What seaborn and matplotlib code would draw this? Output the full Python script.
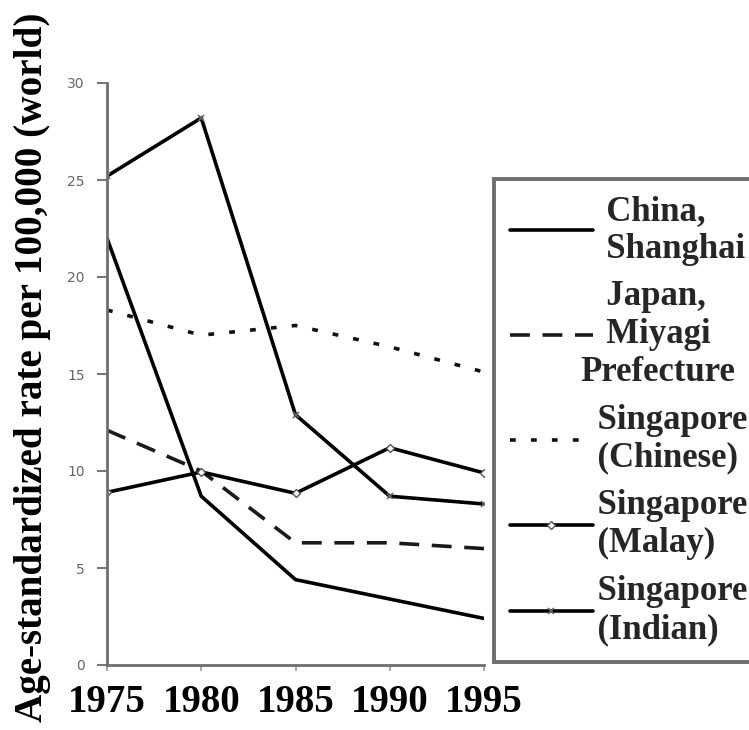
import matplotlib
matplotlib.use("Agg")
import matplotlib.pyplot as plt
import seaborn as sns
import pandas as pd

years = [1975, 1980, 1985, 1990, 1995]
china_shanghai = [22.0, 8.7, 4.4, 3.4, 2.4]
japan_miyagi = [12.1, 10.0, 6.3, 6.3, 6.0]
singapore_chinese = [18.3, 17.0, 17.5, 16.4, 15.1]
singapore_malay = [8.9, 9.95, 8.85, 11.2, 9.9]
singapore_indian = [25.2, 28.2, 12.9, 8.7, 8.3]

series_names = ["   China,\n   Shanghai", "   Japan,\n   Miyagi\nPrefecture",
                "  Singapore\n  (Chinese)", "  Singapore\n  (Malay)",
                "  Singapore\n  (Indian)"]
series_values = [china_shanghai, japan_miyagi, singapore_chinese,
                 singapore_malay, singapore_indian]

y_ticks = [0, 5, 10, 15, 20, 25, 30]

sns.set_theme(style="white")
plt.rcParams["font.family"] = ["Liberation Serif", "DejaVu Serif"]

fig = plt.figure(figsize=(7.49, 7.30), dpi=100)
ax = fig.add_axes([107 / 749, 1 - 665 / 730, (484 - 107) / 749, (665 - 83) / 730])

styles = [
    dict(color="black", linestyle="-", marker=None),
    dict(color="#1a1a1a", linestyle=(0, (5.5, 3.5)), marker=None),
    dict(color="#111111", linestyle=(0, (1.6, 4.2)), marker=None),
    dict(color="black", linestyle="-", marker="D", markersize=4,
         markerfacecolor="white", markeredgecolor="#555555", markeredgewidth=1.0),
    dict(color="black", linestyle="-", marker="x", markersize=5,
         markeredgecolor="#666666", markeredgewidth=1.2),
]

for name, vals, st in zip(series_names, series_values, styles):
    df = pd.DataFrame({"year": years, "rate": vals})
    sns.lineplot(data=df, x="year", y="rate", ax=ax, label=name,
                 linewidth=2.6, **st)

ax.set_xlim(1975, 1995)
ax.set_ylim(0, 30)
ax.set_xticks(years)
ax.set_yticks(y_ticks)
ax.set_xticklabels([str(y) for y in years], fontsize=28, fontweight="bold",
                   color="black")
ax.set_yticklabels([str(t) for t in y_ticks], fontsize=10, color="#666666",
                   family="DejaVu Sans")
ax.tick_params(axis="y", direction="out", length=7, width=1.5, color="#777777",
               left=True, pad=9)
ax.tick_params(axis="x", direction="out", length=4, width=1.2, color="#999999",
               bottom=True, pad=10)
ax.set_xlabel("")
ax.set_ylabel("Age-standardized rate per 100,000 (world)", fontsize=28.2,
              fontweight="bold", color="black")
ax.yaxis.set_label_coords(-0.148, 0.512)

for side in ("top", "right"):
    ax.spines[side].set_visible(False)
for side in ("left", "bottom"):
    ax.spines[side].set_color("#6e6e6e")
    ax.spines[side].set_linewidth(2.0)

ax.get_legend().remove()
handles, labels = ax.get_legend_handles_labels()
leg = fig.legend(handles, labels, loc="upper left",
                 bbox_to_anchor=(494 / 749, 1 - 179 / 730), borderaxespad=0,
                 prop=dict(family="Liberation Serif", weight="bold", size=25),
                 frameon=True, fancybox=False, handlelength=2.4,
                 handletextpad=-0.36, labelspacing=0.42, borderpad=0.45,
                 numpoints=1)
leg.get_frame().set_edgecolor("#4a4a4a")
leg.get_frame().set_linewidth(2.8)
for t in leg.get_texts():
    t.set_linespacing(1.2)
    t.set_multialignment("left")

fig.savefig("out.png", dpi=100)
